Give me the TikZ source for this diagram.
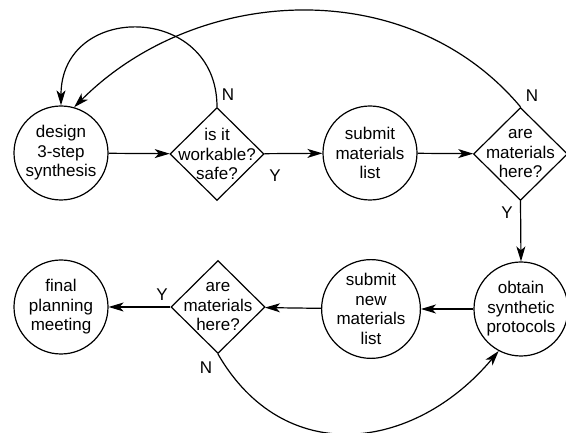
\documentclass[tikz,border=0pt]{standalone}
\usepackage{fontspec}
\setmainfont{Liberation Sans}
\usetikzlibrary{shapes.geometric,arrows.meta}
\begin{document}
\begin{tikzpicture}[x=1pt,y=1pt,
  every node/.style={font=\fontsize{17}{19.5}\selectfont},
  proc/.style={circle,draw,line width=1.2pt,minimum size=94pt,inner sep=0pt,align=center},
  dia/.style={diamond,draw,line width=1.2pt,minimum width=94pt,minimum height=93pt,inner sep=0pt},
  dtext/.style={align=center,inner sep=0pt},
  tag/.style={inner sep=0pt},
  conn/.style={line width=1.2pt,-{Stealth[length=15pt,width=9pt,inset=4pt]}},
  plain/.style={line width=1.2pt}]
\useasboundingbox (0,0) rectangle (566,433);
\node[proc] (design) at (61,280) {design\\3-step\\synthesis};
\node[dia,label={[dtext]center:{is it\\workable?\\safe?}}] (d1) at (217,279) {};
\node[proc] (submit) at (370,280) {submit\\materials\\list};
\node[dia,label={[dtext]center:{are\\materials\\here?}}] (d2) at (520.5,279) {};
\node[proc] (obtain) at (521,124) {obtain\\synthetic\\protocols};
\node[proc] (subnew) at (371,124) {submit\\new\\materials\\list};
\node[dia,label={[dtext]center:{are\\materials\\here?}}] (d3) at (218,126) {};
\node[proc] (final) at (61,126) {final\\planning\\meeting};

\draw[conn] (design) -- (d1);
\draw[conn] (d1) -- (submit);
\draw[conn] (submit) -- (d2);
\draw[conn] (d2.south) -- (obtain.north);
\draw[conn] (obtain) -- (subnew);
\draw[conn] (subnew) -- (d3);
\draw[conn] (d3) -- (final);

\draw[conn] (d1.north) to[out=90,in=90,looseness=1.7] (design.north);
\draw[conn] (d2.north) to[out=130,in=45,looseness=1] (design.74);
\draw[conn] (d3.south) to[out=-60,in=-130,looseness=1.2] (obtain.-118);

\node[tag] (y1) at (275,257) {Y};
\node[tag] (n1) at (228,338) {N};
\node[tag] (n2) at (532,337) {N};
\node[tag] (y2) at (507,220) {Y};
\node[tag] (y3) at (162,138) {Y};
\node[tag] (n3) at (206,65) {N};
\end{tikzpicture}
\end{document}
